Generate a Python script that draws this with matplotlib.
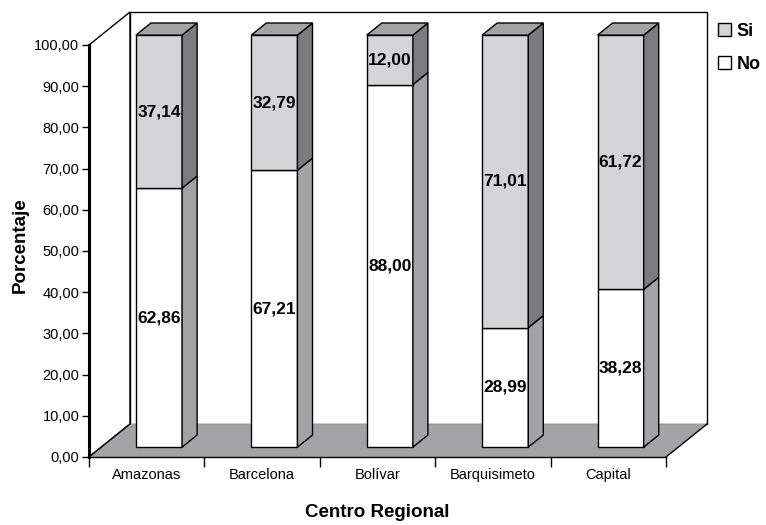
import matplotlib.pyplot as plt
from matplotlib.patches import Polygon, Patch
import numpy as np

plt.rcParams['font.family'] = ['Liberation Sans', 'DejaVu Sans']

centros = ['Amazonas', 'Barcelona', 'Bolívar', 'Barquisimeto', 'Capital']
no_vals = [62.86, 67.21, 88.00, 28.99, 38.28]
si_vals = [37.14, 32.79, 12.00, 71.01, 61.72]
yticks = np.arange(0, 101, 10)

# colours
c_si, c_si_side, c_si_top = '#d4d4d6', '#7c7c7f', '#a3a3a6'
c_no, c_no_side = '#ffffff', '#a3a3a6'
c_floor = '#a3a3a6'

# fake depth (data units)
DX, DY = 0.355, 8.0
f0, f1 = 0.30, 0.667
bw = 0.40

fig = plt.figure(figsize=(7.66, 5.25), dpi=100)
ax = fig.add_axes([89/766, 68/525, 577/766, 412/525])
ax.set_xlim(0, 5)
ax.set_ylim(0, 100)

def poly(pts, fc, ec='black', lw=1.0, z=1):
    ax.add_patch(Polygon(pts, closed=True, facecolor=fc, edgecolor=ec,
                         linewidth=lw, zorder=z, clip_on=False))

# walls and floor
poly([(DX, DY), (5 + DX, DY), (5 + DX, 100 + DY), (DX, 100 + DY)], 'white', z=0.5)
poly([(0, 0), (DX, DY), (DX, 100 + DY), (0, 100)], 'white', z=0.6)
poly([(0, 0), (5, 0), (5 + DX, DY), (DX, DY)], c_floor, ec='none', z=0.7)
ax.plot([0, DX], [0, DY], color='black', lw=1, zorder=0.8, clip_on=False)
ax.plot([5, 5 + DX], [0, DY], color='black', lw=1, zorder=0.8, clip_on=False)

def bar3d(xc, y0, y1, fc, sc, tc=None):
    x0 = xc - bw / 2 + f0 * DX
    x1 = xc + bw / 2 + f0 * DX
    b0 = y0 + f0 * DY
    b1 = y1 + f0 * DY
    ddx = (f1 - f0) * DX
    ddy = (f1 - f0) * DY
    poly([(x0, b0), (x1, b0), (x1, b1), (x0, b1)], fc, z=2)
    poly([(x1, b0), (x1 + ddx, b0 + ddy), (x1 + ddx, b1 + ddy), (x1, b1)], sc, z=2)
    if tc is not None:
        poly([(x0, b1), (x1, b1), (x1 + ddx, b1 + ddy), (x0 + ddx, b1 + ddy)], tc, z=2)

def fmt(v):
    return f'{v:.2f}'.replace('.', ',')

for i, (n, s) in enumerate(zip(no_vals, si_vals)):
    xc = i + 0.5
    bar3d(xc, 0, n, c_no, c_no_side)
    bar3d(xc, n, n + s, c_si, c_si_side, c_si_top)
    tx = xc + f0 * DX
    ax.text(tx, n / 2 + f0 * DY, fmt(n), ha='center', va='center',
            fontsize=12.5, fontweight='bold', zorder=3)
    ax.text(tx, n + s / 2 + f0 * DY, fmt(s), ha='center', va='center',
            fontsize=12.5, fontweight='bold', zorder=3)

# axes styling
for sp in ['top', 'right']:
    ax.spines[sp].set_visible(False)
ax.spines['left'].set_linewidth(2.2)
ax.spines['bottom'].set_linewidth(1.0)
ax.set_yticks(yticks)
ax.set_yticklabels([fmt(v) for v in yticks], fontsize=10.5)
ax.set_xticks(np.arange(0, 6))
ax.set_xticklabels([])
ax.set_xticks(np.arange(5) + 0.5, minor=True)
ax.set_xticklabels(centros, minor=True, fontsize=10.5)
ax.tick_params(axis='x', which='minor', length=0, pad=8)
ax.tick_params(axis='x', which='major', length=7, width=1)
ax.tick_params(axis='y', length=5, width=1, pad=2)
ax.set_facecolor('none')

ax.set_xlabel('Centro Regional', fontsize=13.5, fontweight='bold', labelpad=16)
ax.set_ylabel('Porcentaje', fontsize=13.5, fontweight='bold', va='center')
ax.yaxis.set_label_coords(-0.119, 0.515)

leg = ax.legend(handles=[Patch(facecolor=c_si, edgecolor='black', label='Si'),
                         Patch(facecolor=c_no, edgecolor='black', label='No')],
                loc='upper left', bbox_to_anchor=(0.937, 0.957),
                bbox_transform=fig.transFigure, frameon=False,
                prop={'weight': 'bold', 'size': 13}, handlelength=0.75,
                handleheight=0.75, handletextpad=0.3, labelspacing=0.9,
                borderaxespad=0, borderpad=0)

fig.savefig('out.png', dpi=100)
